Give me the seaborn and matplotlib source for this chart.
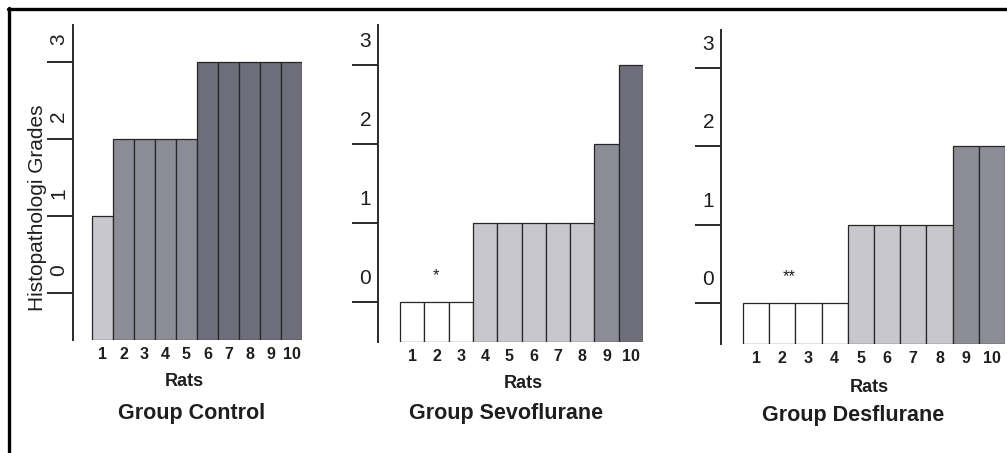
import matplotlib
matplotlib.use("Agg")
import matplotlib.pyplot as plt
import seaborn as sns
import numpy as np
import pandas as pd
from matplotlib.lines import Line2D

# ---------------- data ----------------
rats = ["1", "2", "3", "4", "5", "6", "7", "8", "9", "10"]
grade_ticks = [0, 1, 2, 3]
grade_labels = ["0", "1", "2", "3"]
control = [1, 2, 2, 2, 2, 3, 3, 3, 3, 3]
sevoflurane = [0, 0, 0, 1, 1, 1, 1, 1, 2, 3]
desflurane = [0, 0, 0, 0, 1, 1, 1, 1, 2, 2]
group_titles = ["Group Control", "Group Sevoflurane", "Group Desflurane"]
x_label = "Rats"
y_label = "Histopathologi Grades"
marks = ["", "*", "**"]

# ---------------- style ----------------
sns.set_style("white")
plt.rcParams["font.family"] = ["Liberation Sans", "DejaVu Sans"]

W, H = 1007, 453
GRADE_COLORS = ["#ffffff", "#c6c6ce", "#8a8a99", "#6c6c7c"]
TXT = "#1e1e1e"

# pixel layout per panel: spine x, right x, top y, bottom y, y of grade 0, y of grade 3
layouts = [
    dict(left=73, right=302, top=25, bottom=340, y0=293, y3=62, rot=90, lab_pad=3.5, gap=19,
         rats_xy=(184, 381), title_xy=(192, 413), mark_xy=None, faint=[]),
    dict(left=378, right=643, top=25, bottom=342, y0=302, y3=65, rot=0, lab_pad=5.0, gap=22,
         rats_xy=(523, 383), title_xy=(506, 413), mark_xy=(1.0, 0.34), faint=[0, 2]),
    dict(left=721, right=1005, top=30, bottom=344, y0=303, y3=68, rot=0, lab_pad=5.0, gap=22,
         rats_xy=(869, 387), title_xy=(853, 415), mark_xy=(1.25, 0.34), faint=[]),
]
groups = [control, sevoflurane, desflurane]

fig = plt.figure(figsize=(W / 100, H / 100), dpi=100)
fig.patch.set_facecolor("white")


def fx(px):
    return px / W


def fy(py):
    return 1 - py / H


for gi, (grades, lay) in enumerate(zip(groups, layouts)):
    ax = fig.add_axes([fx(lay["left"]), fy(lay["bottom"]),
                       fx(lay["right"] - lay["left"]), (lay["bottom"] - lay["top"]) / H])
    ppg = (lay["y0"] - lay["y3"]) / 3.0
    ylo = -(lay["bottom"] - lay["y0"]) / ppg
    yhi = (lay["y0"] - lay["top"]) / ppg

    df = pd.DataFrame({"rat": rats, "grade": grades})
    df["height"] = df["grade"] - ylo
    pal = {r: GRADE_COLORS[g] for r, g in zip(rats, grades)}
    sns.barplot(data=df, x="rat", y="height", hue="rat", order=rats, hue_order=rats,
                palette=pal, legend=False, width=1.0, dodge=False,
                edgecolor="#262626", linewidth=0.9, bottom=ylo, ax=ax)

    gap_px = lay["gap"]
    bw = (lay["right"] - lay["left"] - gap_px) / 10.0
    ax.set_xlim(-0.5 - gap_px / bw, 9.5)
    ax.set_ylim(ylo, yhi)

    for s in ["top", "right", "bottom"]:
        ax.spines[s].set_visible(False)
    ax.spines["left"].set_linewidth(1.4)
    ax.spines["left"].set_color("#2a2a2a")

    ax.set_yticks(grade_ticks)
    ax.set_yticklabels([])
    ax.tick_params(axis="y", which="major", direction="out", length=19, width=1.4,
                   color="#2a2a2a", left=True)
    ax.set_yticks([g + 0.3 for g in grade_ticks], minor=True)
    ax.set_yticklabels(grade_labels, minor=True, fontsize=15, rotation=lay["rot"],
                       va="center", color=TXT)
    ax.tick_params(axis="y", which="minor", length=0, pad=lay["lab_pad"])
    for k in lay["faint"]:
        ax.yaxis.get_major_ticks()[k].tick1line.set_color("#c4c4c4")

    ax.set_xticks(range(len(rats)))
    ax.set_xticklabels(rats, fontsize=11.5, fontweight="bold", color=TXT)
    ax.tick_params(axis="x", length=0, pad=5)
    ax.set_xlabel("")
    ax.set_ylabel("")

    if lay["mark_xy"] is not None:
        ax.text(lay["mark_xy"][0], lay["mark_xy"][1], marks[gi], ha="center", va="center",
                fontsize=12, color=TXT)

    fig.text(fx(lay["rats_xy"][0]), fy(lay["rats_xy"][1]), x_label, ha="center", va="center",
             fontsize=13, fontweight="bold", color=TXT)
    fig.text(fx(lay["title_xy"][0]), fy(lay["title_xy"][1]), group_titles[gi], ha="center",
             va="center", fontsize=15.5, fontweight="bold", color=TXT)

fig.text(fx(38), fy(208), y_label, rotation=90, ha="center", va="center", fontsize=15,
         color=TXT)

# frame (top and left edges)
fig.add_artist(Line2D([fx(8), 1.0], [fy(9), fy(9)], color="black", linewidth=2.4))
fig.add_artist(Line2D([fx(9), fx(9)], [fy(8), 0.0], color="black", linewidth=2.4))

fig.savefig("out.png", dpi=100, facecolor="white")
